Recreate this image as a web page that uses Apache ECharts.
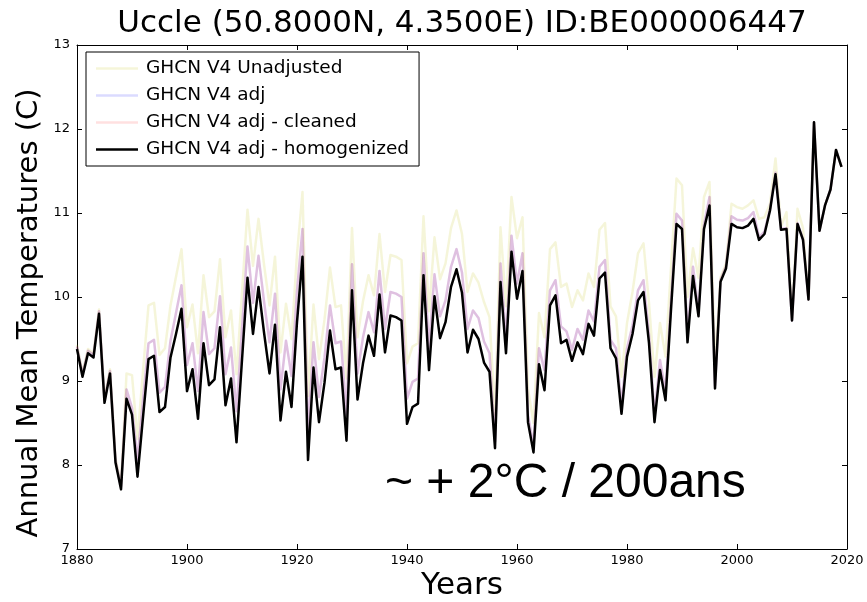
<!DOCTYPE html>
<html>
<head>
<meta charset="utf-8">
<script src="https://cdn.jsdelivr.net/npm/echarts@6/dist/echarts.min.js"></script>
<style>
  html, body { margin: 0; padding: 0; background: #fff; }
  #chart { width: 867px; height: 602px; }
</style>
</head>
<body>
<div id="chart"></div>
<script>
// Uccle annual mean temperature, 1880-2019 (°C)
const firstYear = 1880;
const lastYear = 2019;

const unadjusted = [
  9.43, 9.10, 9.38, 9.33, 9.85, 8.79, 9.14, 8.08, 7.76, 9.09,
  9.07, 8.31, 9.12, 9.90, 9.93, 9.31, 9.39, 9.90, 10.24, 10.57,
  9.64, 9.91, 9.33, 10.26, 9.76, 9.83, 10.45, 9.52, 9.84, 9.08,
  10.06, 11.04, 10.37, 10.93, 10.39, 9.90, 10.48, 9.34, 9.92, 9.50,
  10.51, 11.25, 8.82, 9.91, 9.26, 9.73, 10.35, 9.88, 9.90, 9.03,
  10.82, 9.52, 9.95, 10.26, 10.02, 10.75, 10.06, 10.50, 10.48, 10.44,
  9.21, 9.41, 9.45, 10.96, 9.83, 10.71, 10.21, 10.40, 10.82, 11.03,
  10.75, 10.06, 10.28, 10.17, 9.94, 9.76, 8.60, 10.83, 9.89, 11.19,
  10.70, 10.95, 8.91, 8.50, 9.81, 9.52, 10.57, 10.65, 10.12, 10.16,
  9.88, 10.08, 9.96, 10.28, 10.12, 10.80, 10.88, 9.89, 9.77, 9.05,
  9.69, 10.06, 10.52, 10.64, 9.93, 9.05, 9.69, 9.29, 10.35, 11.41,
  11.33, 10.00, 10.58, 10.23, 11.19, 11.37, 9.21, 10.23, 10.40, 11.11,
  11.07, 11.05, 11.09, 11.15, 10.93, 10.95, 11.11, 11.65, 10.84, 11.01,
  9.74, 11.05, 10.82, 9.97, 12.08, 10.79, 11.09, 11.28, 11.75, 11.55
];

const adjusted = [
  9.41, 9.08, 9.36, 9.31, 9.83, 8.77, 9.12, 8.06, 7.74, 8.90,
  8.68, 8.06, 8.77, 9.45, 9.49, 8.86, 8.93, 9.48, 9.81, 10.14,
  9.19, 9.45, 8.88, 9.82, 9.32, 9.39, 10.01, 9.08, 9.40, 8.64,
  9.62, 10.60, 9.93, 10.49, 9.95, 9.46, 10.04, 8.90, 9.48, 9.06,
  10.07, 10.81, 8.38, 9.46, 8.81, 9.28, 9.90, 9.45, 9.47, 8.60,
  10.39, 9.09, 9.52, 9.82, 9.58, 10.31, 9.62, 10.06, 10.04, 10.00,
  8.79, 8.99, 9.03, 10.52, 9.39, 10.27, 9.77, 9.96, 10.36, 10.57,
  10.29, 9.62, 9.84, 9.75, 9.47, 9.33, 8.28, 10.40, 9.49, 10.73,
  10.16, 10.52, 8.59, 8.23, 9.39, 9.13, 10.08, 10.20, 9.65, 9.59,
  9.37, 9.62, 9.49, 9.84, 9.71, 10.36, 10.44, 9.49, 9.39, 8.71,
  9.39, 9.66, 10.08, 10.20, 9.55, 8.59, 9.25, 8.87, 9.95, 10.99,
  10.91, 9.54, 10.36, 9.83, 10.86, 11.19, 8.94, 10.20, 10.37, 10.96,
  10.92, 10.91, 10.94, 11.01, 10.71, 10.78, 11.05, 11.48, 10.81, 10.82,
  9.72, 10.88, 10.69, 9.97, 12.08, 10.79, 11.09, 11.28, 11.75, 11.55
];

// the cleaned series coincides with the adjusted one over the whole record
const cleaned = [
  9.41, 9.08, 9.36, 9.31, 9.83, 8.77, 9.12, 8.06, 7.74, 8.90,
  8.68, 8.06, 8.77, 9.45, 9.49, 8.86, 8.93, 9.48, 9.81, 10.14,
  9.19, 9.45, 8.88, 9.82, 9.32, 9.39, 10.01, 9.08, 9.40, 8.64,
  9.62, 10.60, 9.93, 10.49, 9.95, 9.46, 10.04, 8.90, 9.48, 9.06,
  10.07, 10.81, 8.38, 9.46, 8.81, 9.28, 9.90, 9.45, 9.47, 8.60,
  10.39, 9.09, 9.52, 9.82, 9.58, 10.31, 9.62, 10.06, 10.04, 10.00,
  8.79, 8.99, 9.03, 10.52, 9.39, 10.27, 9.77, 9.96, 10.36, 10.57,
  10.29, 9.62, 9.84, 9.75, 9.47, 9.33, 8.28, 10.40, 9.49, 10.73,
  10.16, 10.52, 8.59, 8.23, 9.39, 9.13, 10.08, 10.20, 9.65, 9.59,
  9.37, 9.62, 9.49, 9.84, 9.71, 10.36, 10.44, 9.49, 9.39, 8.71,
  9.39, 9.66, 10.08, 10.20, 9.55, 8.59, 9.25, 8.87, 9.95, 10.99,
  10.91, 9.54, 10.36, 9.83, 10.86, 11.19, 8.94, 10.20, 10.37, 10.96,
  10.92, 10.91, 10.94, 11.01, 10.71, 10.78, 11.05, 11.48, 10.81, 10.82,
  9.72, 10.88, 10.69, 9.97, 12.08, 10.79, 11.09, 11.28, 11.75, 11.55
];

const homogenized = [
  9.38, 9.05, 9.33, 9.28, 9.80, 8.74, 9.09, 8.03, 7.71, 8.79,
  8.60, 7.86, 8.57, 9.26, 9.30, 8.63, 8.69, 9.28, 9.56, 9.86,
  8.88, 9.14, 8.55, 9.45, 8.95, 9.02, 9.64, 8.71, 9.03, 8.27,
  9.25, 10.23, 9.56, 10.12, 9.58, 9.09, 9.67, 8.53, 9.11, 8.69,
  9.70, 10.48, 8.06, 9.16, 8.51, 8.98, 9.60, 9.14, 9.16, 8.29,
  10.08, 8.78, 9.21, 9.54, 9.30, 10.03, 9.34, 9.78, 9.76, 9.72,
  8.49, 8.69, 8.73, 10.26, 9.13, 10.01, 9.51, 9.70, 10.12, 10.33,
  10.05, 9.34, 9.61, 9.50, 9.22, 9.11, 8.20, 10.18, 9.33, 10.54,
  9.98, 10.31, 8.51, 8.15, 9.20, 8.89, 9.90, 10.02, 9.45, 9.49,
  9.24, 9.46, 9.32, 9.68, 9.54, 10.22, 10.29, 9.39, 9.27, 8.61,
  9.29, 9.56, 9.96, 10.06, 9.45, 8.51, 9.13, 8.77, 9.85, 10.87,
  10.81, 9.46, 10.25, 9.77, 10.81, 11.09, 8.91, 10.18, 10.34, 10.87,
  10.83, 10.82, 10.85, 10.93, 10.68, 10.75, 11.03, 11.46, 10.80, 10.81,
  9.72, 10.87, 10.68, 9.97, 12.08, 10.79, 11.09, 11.28, 11.75, 11.55
];

const seriesNames = [
  'GHCN V4 Unadjusted',
  'GHCN V4 adj',
  'GHCN V4 adj - cleaned',
  'GHCN V4 adj - homogenized'
];

const xTicks = { min: 1880, max: 2020, step: 20 };
const yTicks = { min: 7, max: 13, step: 1 };

const titleText = 'Uccle (50.8000N, 4.3500E) ID:BE000006447';
const xLabel = 'Years';
const yLabel = 'Annual Mean Temperatures (C)';
const note = '~ + 2°C / 200ans';

const years = [];
for (let y = firstYear; y <= lastYear; y++) years.push(y);
const pairs = vals => years.map((yr, i) => [yr, vals[i]]);

const FONT = 'DejaVu Sans';
const GRID = { left: 77, right: 20, top: 45, bottom: 53 };
// short horizontal stroke used as the legend key
const LEGEND_KEY = 'path://M0,0 L42,0 L42,2.5 L0,2.5 Z';

const frameAxis = (extra) => Object.assign({
  type: 'value',
  axisLine: { show: true, onZero: false, lineStyle: { color: '#000', width: 1 } },
  axisTick: { show: true, inside: true, length: 5, lineStyle: { color: '#000', width: 1 } },
  splitLine: { show: false }
}, extra);

const lineSeries = (name, vals, color, width, z) => ({
  name: name,
  type: 'line',
  data: pairs(vals),
  symbol: 'none',
  showSymbol: false,
  z: z,
  lineStyle: { color: color, width: width, join: 'round', cap: 'butt' },
  itemStyle: { color: color, borderWidth: 0 },
  emphasis: { disabled: true }
});

const chart = echarts.init(document.getElementById('chart'), null, { renderer: 'canvas' });

chart.setOption({
  animation: false,
  backgroundColor: '#fff',
  grid: GRID,
  xAxis: [
    frameAxis({
      position: 'bottom',
      min: xTicks.min, max: xTicks.max, interval: xTicks.step,
      axisLabel: { show: true, color: '#000', fontFamily: FONT, fontSize: 13, margin: 5,
                   showMinLabel: true, showMaxLabel: true, formatter: v => String(v) }
    }),
    frameAxis({
      position: 'top',
      min: xTicks.min, max: xTicks.max, interval: xTicks.step,
      axisLabel: { show: false }
    })
  ],
  yAxis: [
    frameAxis({
      position: 'left',
      min: yTicks.min, max: yTicks.max, interval: yTicks.step,
      axisLabel: { show: true, color: '#000', fontFamily: FONT, fontSize: 13, margin: 7,
                   showMinLabel: true, showMaxLabel: true, formatter: v => String(v) }
    }),
    frameAxis({
      position: 'right',
      min: yTicks.min, max: yTicks.max, interval: yTicks.step,
      axisLabel: { show: false }
    })
  ],
  legend: {
    data: seriesNames,
    orient: 'vertical',
    left: 86,
    top: 52,
    padding: [7, 10, 7, 10],
    itemWidth: 42,
    itemHeight: 20,
    itemGap: 8,
    icon: LEGEND_KEY,
    itemStyle: { borderWidth: 0 },
    backgroundColor: '#fff',
    borderColor: '#000',
    borderWidth: 1,
    borderRadius: 0,
    selectedMode: false,
    textStyle: { fontFamily: FONT, fontSize: 18.5, color: '#000', padding: [0, 0, 0, 3] }
  },
  series: [
    lineSeries(seriesNames[0], unadjusted, 'rgba(191,191,0,0.15)', 2.5, 1),
    lineSeries(seriesNames[1], adjusted, 'rgba(0,0,255,0.14)', 2.5, 2),
    lineSeries(seriesNames[2], cleaned, 'rgba(255,0,0,0.12)', 2.5, 3),
    lineSeries(seriesNames[3], homogenized, '#000000', 2.5, 4)
  ],
  graphic: [
    {
      type: 'text', x: 462, y: 24, silent: true,
      style: { text: titleText, fontFamily: FONT, fontSize: 31, fill: '#000',
               align: 'center', verticalAlign: 'middle' }
    },
    {
      type: 'text', x: 462, y: 586, silent: true,
      style: { text: xLabel, fontFamily: FONT, fontSize: 31, fill: '#000',
               align: 'center', verticalAlign: 'middle' }
    },
    {
      type: 'text', x: 29, y: 313, rotation: Math.PI / 2, silent: true,
      style: { text: yLabel, fontFamily: FONT, fontSize: 29, fill: '#000',
               align: 'center', verticalAlign: 'middle' }
    },
    {
      type: 'text', x: 385, y: 484, silent: true, z: 100,
      style: { text: note, fontFamily: 'Liberation Sans', fontSize: 48, fill: '#000',
               align: 'left', verticalAlign: 'middle' }
    }
  ]
});
</script>
</body>
</html>
